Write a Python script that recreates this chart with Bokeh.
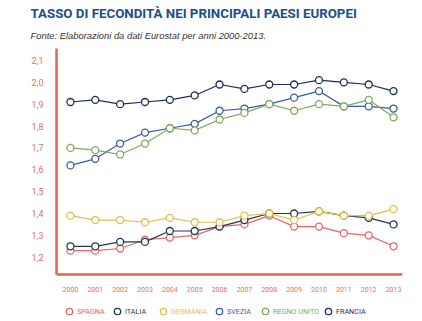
from bokeh.plotting import figure
from bokeh.models import FixedTicker, Title, Legend, LegendItem
from bokeh.embed import file_html
from bokeh.resources import INLINE

years = list(range(2000, 2014))
spagna = [1.23, 1.23, 1.24, 1.28, 1.29, 1.30, 1.34, 1.35, 1.39, 1.34, 1.34, 1.31, 1.30, 1.25]
italia = [1.25, 1.25, 1.27, 1.27, 1.32, 1.32, 1.34, 1.37, 1.40, 1.40, 1.41, 1.39, 1.38, 1.35]
germania = [1.39, 1.37, 1.37, 1.36, 1.38, 1.36, 1.36, 1.39, 1.40, 1.37, 1.41, 1.39, 1.39, 1.42]
svezia = [1.62, 1.65, 1.72, 1.77, 1.79, 1.81, 1.87, 1.88, 1.90, 1.93, 1.96, 1.89, 1.89, 1.88]
regno_unito = [1.70, 1.69, 1.67, 1.72, 1.79, 1.78, 1.83, 1.86, 1.90, 1.87, 1.90, 1.89, 1.92, 1.84]
francia = [1.91, 1.92, 1.90, 1.91, 1.92, 1.94, 1.99, 1.97, 1.99, 1.99, 2.01, 2.00, 1.99, 1.96]

series_names = ["SPAGNA", "ITALIA", "GERMANIA", "SVEZIA", "REGNO UNITO", "FRANCIA"]
series_values = [spagna, italia, germania, svezia, regno_unito, francia]
colors = ["#e5636b", "#1f3a4d", "#e3bf4e", "#3d5c9c", "#7eaa5e", "#1e2c5a"]
y_ticks = [1.2, 1.3, 1.4, 1.5, 1.6, 1.7, 1.8, 1.9, 2.0, 2.1]

axis_color = "#e0674e"
label_color = "#d97360"

# axis extent (value scale) and the extra room around it
y_axis_low, y_axis_high = 1.121, 2.155
y_frame_low, y_frame_high = 0.906, 2.173

p = figure(width=422, height=321, output_backend="svg", toolbar_location=None,
           x_range=(1999.44, 2013.36), y_range=(y_frame_low, y_frame_high),
           min_border_left=56, min_border_right=20, min_border_top=0,
           min_border_bottom=0, title=None)
p.outline_line_color = None
p.grid.grid_line_color = None
p.background_fill_color = "white"
p.border_fill_color = "white"

for ax in (p.xaxis[0], p.yaxis[0]):
    ax.axis_line_color = axis_color
    ax.axis_line_width = 2.5
    ax.major_tick_line_color = None
    ax.minor_tick_line_color = None
    ax.major_tick_out = 0
    ax.major_tick_in = 0
    ax.major_label_text_color = label_color
    ax.major_label_text_font = "Roboto"

p.xaxis.ticker = FixedTicker(ticks=years)
p.xaxis.fixed_location = y_axis_low
p.xaxis.major_label_text_font_size = "7px"
p.xaxis.major_label_standoff = 13
p.yaxis.ticker = FixedTicker(ticks=y_ticks)
p.yaxis.bounds = (y_axis_low, y_axis_high)
p.yaxis.major_label_overrides = {t: f"{t:.1f}".replace(".", ",") for t in y_ticks}
p.yaxis.major_label_text_font_size = "9px"
p.yaxis.major_label_standoff = 13

renderers = []
for name, vals, col in zip(series_names, series_values, colors):
    p.line(years, vals, line_color=col, line_width=1.2)
    r = p.scatter(years, vals, size=7, marker="circle", line_color=col,
                  fill_color="white", line_width=1.3)
    renderers.append(r)

legend_x = [5, 53, 99, 155, 201, 264]
for name, r, col, lx in zip(series_names, renderers, colors, legend_x):
    lg = Legend(items=[LegendItem(label=name, renderers=[r])],
                location=(lx, 2), orientation="horizontal",
                background_fill_alpha=0, border_line_color=None,
                label_text_color=col, label_text_font="Roboto",
                label_text_font_size="7.2px", glyph_width=16, glyph_height=16,
                label_standoff=0, padding=0, margin=0, spacing=0,
                label_height=16)
    p.add_layout(lg, "center")

sub = Title(text="Fonte: Elaborazioni da dati Eurostat per anni 2000-2013.",
            text_font="Liberation Sans", text_font_style="italic",
            text_font_size="9.4px", text_color="#333333", align="left",
            offset=-26, standoff=8)
p.add_layout(sub, "above")
main = Title(text="TASSO DI FECONDITÀ NEI PRINCIPALI PAESI EUROPEI",
             text_font="Roboto", text_font_style="bold",
             text_font_size="13.3px", text_color="#1c4e8a", align="left",
             offset=-26, standoff=6)
p.add_layout(main, "above")

open("out.html", "w").write(file_html(p, INLINE))
